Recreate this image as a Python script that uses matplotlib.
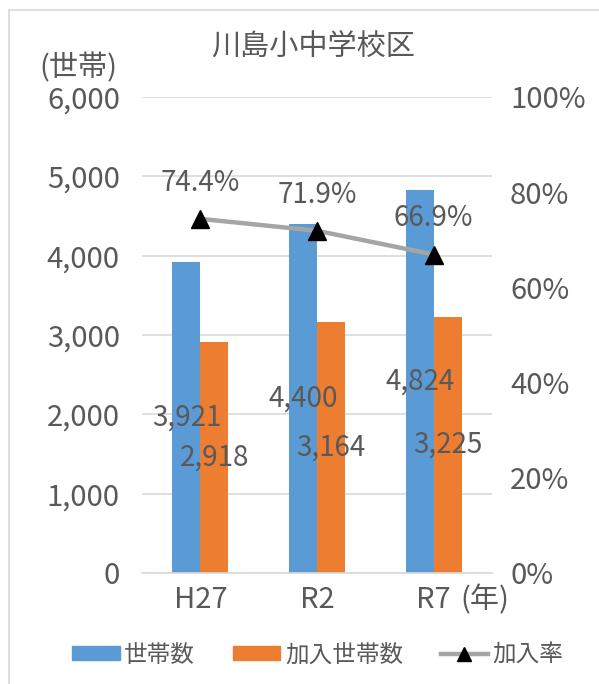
import matplotlib
matplotlib.use('Agg')
import matplotlib.pyplot as plt
from matplotlib.ticker import FuncFormatter, PercentFormatter
from matplotlib.patches import Rectangle
from matplotlib.lines import Line2D
import numpy as np

plt.rcParams['font.family'] = ['Noto Sans CJK JP', 'DejaVu Sans']

# データ
years = ['H27', 'R2', 'R7']
households = [3921, 4400, 4824]
joined = [2918, 3164, 3225]
join_rate = [74.4, 71.9, 66.9]

TXT = '#595959'
BLUE = '#5B9BD5'
ORANGE = '#ED7D31'
GRAY = '#A5A5A5'
GRID = '#D9D9D9'

fig = plt.figure(figsize=(5.99, 6.84), dpi=100)
# 枠線
fig.patches.append(Rectangle((9 / 599, -0.05), 1.0, 1 - 10 / 684 + 0.05, transform=fig.transFigure,
                             fill=False, edgecolor=GRID, linewidth=1.2))

ax = fig.add_axes([142 / 599, 1 - 573 / 684, 350 / 599, 476 / 684])
x = np.arange(len(years))
w = 0.24
b1 = ax.bar(x - w / 2, households, w, color=BLUE, label='世帯数', zorder=2)
b2 = ax.bar(x + w / 2, joined, w, color=ORANGE, label='加入世帯数', zorder=2)
ax.bar_label(b1, labels=[f'{v:,}' for v in households], label_type='center', color=TXT, fontsize=20)
ax.bar_label(b2, labels=[f'{v:,}' for v in joined], label_type='center', color=TXT, fontsize=20)

ax.set_xlim(-0.5, 2.5)
ax.set_ylim(0, 6000)
ax.set_yticks(range(0, 6001, 1000))
ax.yaxis.set_major_formatter(FuncFormatter(lambda v, p: f'{int(v):,}'))
ax.set_xticks(x)
ax.set_xticklabels(years)
ax.grid(axis='y', color=GRID, linewidth=1.2, zorder=0)
ax.set_axisbelow(True)
for s in ['top', 'right', 'left']:
    ax.spines[s].set_visible(False)
ax.spines['bottom'].set_color(GRID)
ax.spines['bottom'].set_linewidth(1.2)
ax.tick_params(axis='both', length=0, colors=TXT, labelsize=21)
ax.tick_params(axis='y', pad=16)
ax.tick_params(axis='x', pad=9)

ax2 = ax.twinx()
ax2.plot(x, join_rate, color=GRAY, linewidth=3.2, zorder=3)
ax2.plot(x, join_rate, linestyle='none', marker='^', color='black', markersize=13, zorder=4)
for xi, r in zip(x, join_rate):
    ax2.annotate(f'{r}%', (xi, r), xytext=(0, 26), textcoords='offset points',
                 ha='center', va='center', color=TXT, fontsize=20)
ax2.set_ylim(0, 100)
ax2.set_yticks(range(0, 101, 20))
ax2.yaxis.set_major_formatter(PercentFormatter(decimals=0))
for s in ax2.spines.values():
    s.set_visible(False)
ax2.tick_params(axis='y', length=0, colors=TXT, labelsize=21, pad=13)

fig.text(313 / 599, 1 - 48 / 684, '川島小中学校区', ha='center', va='center', color=TXT, fontsize=21)
fig.text(78 / 599, 1 - 68 / 684, '(世帯)', ha='center', va='center', color=TXT, fontsize=21)
fig.text(485 / 599, 1 - 600 / 684, '(年)', ha='center', va='center', color=TXT, fontsize=21)

handles = [Rectangle((0, 0), 1, 1, color=BLUE),
           Rectangle((0, 0), 1, 1, color=ORANGE),
           Line2D([], [], color=GRAY, linewidth=3.2, marker='^', markerfacecolor='black',
                  markeredgecolor='black', markersize=10)]
fig.legend(handles, ['世帯数', '加入世帯数', '加入率'], loc='center', ncol=3,
           bbox_to_anchor=(318 / 599, 1 - 655 / 684), frameon=False, fontsize=17,
           labelcolor=TXT, handlelength=2.0, handleheight=0.5, handletextpad=0.2, columnspacing=1.6)

fig.savefig('out.png', dpi=100, facecolor='white')
